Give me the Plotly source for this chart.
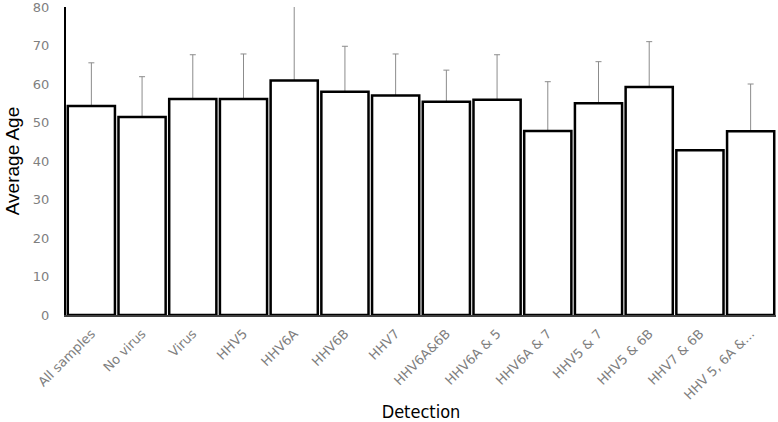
import plotly.graph_objects as go

categories = ["All samples", "No virus", "Virus", "HHV5", "HHV6A", "HHV6B", "HHV7",
              "HHV6A&6B", "HHV6A & 5", "HHV6A & 7", "HHV5 & 7", "HHV5 & 6B",
              "HHV7 & 6B", "HHV 5, 6A &..."]
avg_age = [54.3, 51.4, 56.1, 56.1, 60.9, 58.0, 57.0, 55.4, 55.9, 47.8, 55.0, 59.2, 42.8, 47.7]
err_plus = [11.2, 10.5, 11.5, 11.7, 20.0, 11.8, 10.8, 8.2, 11.7, 12.8, 10.8, 11.8, 0.0, 12.3]
y_ticks = [0, 10, 20, 30, 40, 50, 60, 70, 80]

fig = go.Figure()
# error bars drawn first, underneath the bars
fig.add_trace(go.Bar(
    x=categories, y=avg_age,
    marker=dict(color="rgba(0,0,0,0)", line=dict(width=0)),
    error_y=dict(type="data", array=err_plus, symmetric=True,
                 color="#8c8c8c", thickness=1, width=3),
    hoverinfo="skip",
))
fig.add_trace(go.Bar(
    x=categories, y=avg_age,
    marker=dict(color="white", line=dict(color="black", width=2.5)),
))

fig.update_layout(
    width=778, height=422,
    margin=dict(l=66, r=2, t=7, b=107, autoexpand=False),
    plot_bgcolor="white", paper_bgcolor="white",
    barmode="overlay",
    bargap=0.07,
    showlegend=False,
    font=dict(family="DejaVu Sans", color="#595959", size=11),
)
fig.update_xaxes(
    automargin=False,
    showline=True, linecolor="#404040", linewidth=2,
    tickangle=-45, ticks="", showgrid=False,
    tickfont=dict(family="DejaVu Sans", size=13, color="#7f7f7f"),
    ticklabelstandoff=4,
    title=dict(text="Detection", font=dict(family="DejaVu Sans Condensed, DejaVu Sans", size=18, color="black"), standoff=14),
)
fig.update_yaxes(
    automargin=False,
    range=[0, 80], tickvals=y_ticks, showgrid=False, zeroline=False,
    showline=True, linecolor="black", linewidth=2, ticks="",
    tickfont=dict(family="DejaVu Sans", size=13, color="#7f7f7f"),
    ticklabelstandoff=12, ticklabeloverflow="allow",
    title=dict(text="Average Age", font=dict(family="Liberation Sans", size=19, color="black"), standoff=8),
)

fig.write_html("out.html", config={"displayModeBar": False},
               post_script="document.body.style.margin='0';document.body.style.overflow='hidden';")
